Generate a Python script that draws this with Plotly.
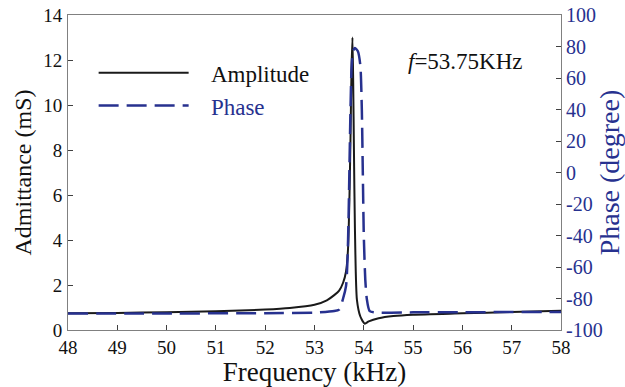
import plotly.graph_objects as go

# Amplitude (mS) vs frequency (kHz)
amp_freq = [48.0, 49.0, 50.0, 51.0, 52.0, 52.5, 53.0, 53.25, 53.4, 53.5, 53.58, 53.64, 53.68,
            53.71, 53.73, 53.75, 53.77, 53.785, 53.80, 53.82, 53.86, 53.93, 54.02, 54.1,
            54.3, 54.6, 55.0, 56.0, 57.0, 58.0]
amp_val = [0.74, 0.76, 0.79, 0.83, 0.91, 0.98, 1.12, 1.32, 1.55, 1.75, 2.1, 2.6, 3.6,
           6.0, 8.5, 11.5, 13.0, 11.0, 8.0, 4.5, 1.35, 0.6, 0.28, 0.38,
           0.52, 0.62, 0.68, 0.74, 0.80, 0.86]

# Phase (degree) vs frequency (kHz)
ph_freq = [48.0, 50.0, 52.0, 53.0, 53.4, 53.5, 53.58, 53.64, 53.67, 53.69, 53.71, 53.73,
           53.75, 53.78, 53.82, 53.88, 53.93, 53.96, 53.98, 54.0, 54.03, 54.06, 54.12,
           54.3, 55.0, 56.0, 58.0]
ph_val = [-89.5, -89.5, -89.3, -89.0, -88.0, -87.0, -80.0, -72.0, -55.0, -30.0, 5.0, 40.0,
          65.0, 77.0, 79.0, 77.0, 68.0, 40.0, 0.0, -40.0, -68.0, -80.0, -88.0,
          -89.0, -88.8, -88.7, -88.5]

x_ticks = [48, 49, 50, 51, 52, 53, 54, 55, 56, 57, 58]
y_ticks = [0, 2, 4, 6, 8, 10, 12, 14]
y2_ticks = [-100, -80, -60, -40, -20, 0, 20, 40, 60, 80, 100]

BLUE = "#27318f"
SERIF = "Liberation Serif, Times New Roman, serif"
INK = "#111111"

fig = go.Figure()
fig.add_trace(go.Scatter(x=amp_freq, y=amp_val, mode="lines", name="&nbsp;&nbsp;&nbsp;Amplitude",
                         line=dict(color="#1a1a1a", width=2, shape="spline", smoothing=0.6)))
fig.add_trace(go.Scatter(x=ph_freq, y=ph_val, mode="lines", yaxis="y2",
                         name=f"&nbsp;&nbsp;&nbsp;<span style='color:{BLUE}'>Phase</span>",
                         line=dict(color=BLUE, width=2.5, dash="20px,8px", shape="spline", smoothing=0.6)))

axis_common = dict(showgrid=False, zeroline=False, linecolor="#808080", linewidth=1,
                   ticks="inside", ticklen=5, tickcolor="#404040", automargin=False)

fig.update_layout(
    width=625, height=387,
    margin=dict(l=68, r=64, t=15, b=57),
    paper_bgcolor="white", plot_bgcolor="white",
    font=dict(family=SERIF, size=19, color=INK),
    xaxis=dict(range=[48, 58], tickvals=x_ticks, ticktext=[str(v) for v in x_ticks], mirror=True,
               title=dict(text="Frequency (kHz)", font=dict(size=27, family=SERIF, color=INK), standoff=0),
               tickfont=dict(size=19, family=SERIF, color=INK), ticklabelstandoff=0, **axis_common),
    yaxis=dict(range=[0, 14], tickvals=y_ticks, ticktext=[str(v) for v in y_ticks],
               title=dict(text="Admittance (mS)", font=dict(size=24, family=SERIF, color=INK), standoff=4),
               tickfont=dict(size=19, family=SERIF, color=INK), ticklabelstandoff=1, **axis_common),
    yaxis2=dict(range=[-100, 100], tickvals=y2_ticks, ticktext=[str(v) for v in y2_ticks],
                overlaying="y", side="right",
                title=dict(text="Phase (degree)", font=dict(size=28, family=SERIF, color=BLUE), standoff=4),
                tickfont=dict(size=20, family=SERIF, color=BLUE), **axis_common),
    legend=dict(x=0.052, y=0.885, xanchor="left", yanchor="top", bgcolor="rgba(0,0,0,0)",
                font=dict(size=23, family=SERIF, color=INK), itemwidth=90),
    annotations=[dict(xref="paper", yref="paper", x=0.807, y=0.851, xanchor="center", yanchor="middle",
                      text="<i>f</i>=53.75KHz", showarrow=False, font=dict(size=23, family=SERIF, color=INK))],
)

fig.write_html("out.html")
